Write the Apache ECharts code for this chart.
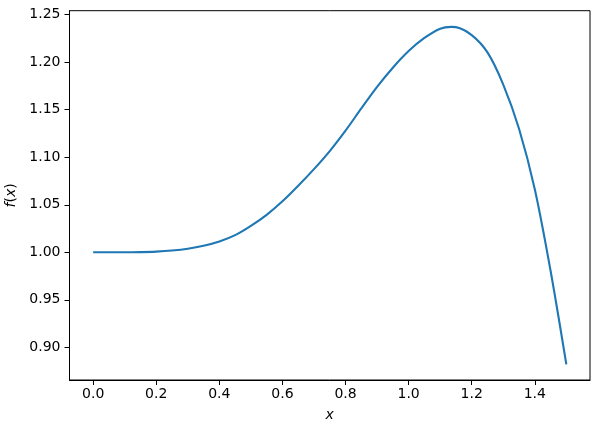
<!DOCTYPE html>
<html>
<head>
<meta charset="utf-8">
<script src="https://cdn.jsdelivr.net/npm/echarts@6/dist/echarts.min.js"></script>
<style>
html,body{margin:0;padding:0;background:#fff;}
#chart{width:599px;height:430px;}
</style>
</head>
<body>
<div id="chart"></div>
<script>
const xValues = [0.00,0.05,0.10,0.15,0.20,0.25,0.30,0.35,0.40,0.45,0.50,0.55,0.60,0.65,0.70,0.75,0.80,0.85,0.90,0.95,1.00,1.05,1.10,1.135,1.15,1.20,1.25,1.30,1.35,1.40,1.45,1.50];
const fValues = [1.0000,1.0000,1.0000,1.0002,1.0007,1.0018,1.0037,1.0068,1.0113,1.0180,1.0278,1.0394,1.0536,1.0700,1.0875,1.1065,1.1280,1.1513,1.1740,1.1942,1.2117,1.2255,1.2353,1.2372,1.2369,1.2285,1.2103,1.1765,1.1300,1.0663,0.9805,0.8820];
const xTicks = [0.0,0.2,0.4,0.6,0.8,1.0,1.2,1.4];
const yTicks = [0.90,0.95,1.00,1.05,1.10,1.15,1.20,1.25];

const font = 'DejaVu Sans';
const chart = echarts.init(document.getElementById('chart'), null, {renderer:'canvas'});
chart.setOption({
  animation:false,
  backgroundColor:'#fff',
  grid:{left:69.5,right:9,top:10.7,bottom:50,outerBoundsMode:'none',containLabel:false,show:true,borderColor:'#000',borderWidth:1,backgroundColor:'transparent'},
  xAxis:{
    type:'value',min:-0.075,max:1.575,
    name:'x',nameLocation:'middle',nameGap:28,
    nameTextStyle:{fontFamily:font,fontSize:14,fontStyle:'italic',color:'#000'},
    axisLine:{show:true,onZero:false,lineStyle:{color:'#000',width:1}},
    axisTick:{show:true,inside:false,length:5,lineStyle:{color:'#000',width:1},customValues:xTicks},
    axisLabel:{show:true,margin:7,fontFamily:font,fontSize:14,color:'#000',customValues:xTicks,formatter:v=>v.toFixed(1)},
    splitLine:{show:false}
  },
  yAxis:{
    type:'value',min:0.8656,max:1.2542,
    name:'{i|f}({i|x})',nameLocation:'middle',nameGap:44,nameRotate:90,
    nameTextStyle:{fontFamily:font,fontSize:14,color:'#000',rich:{i:{fontFamily:font,fontSize:14,fontStyle:'italic',color:'#000'}}},
    axisLine:{show:true,onZero:false,lineStyle:{color:'#000',width:1}},
    axisTick:{show:true,inside:false,length:5,lineStyle:{color:'#000',width:1},customValues:yTicks},
    axisLabel:{show:true,margin:9,fontFamily:font,fontSize:14,color:'#000',customValues:yTicks,formatter:v=>v.toFixed(2)},
    splitLine:{show:false}
  },
  series:[{
    type:'line',
    data:xValues.map((x,i)=>[x,fValues[i]]),
    showSymbol:false,smooth:0.3,
    lineStyle:{color:'#1f77b4',width:2.1},
    itemStyle:{color:'#1f77b4'}
  }]
});
</script>
</body>
</html>
